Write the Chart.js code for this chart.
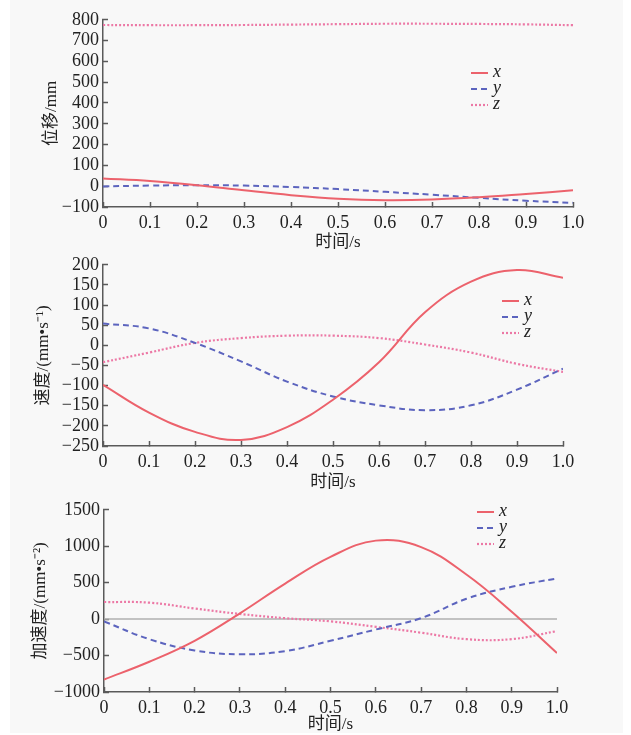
<!DOCTYPE html>
<html>
<head>
<meta charset="utf-8">
<script src="https://cdn.jsdelivr.net/npm/chart.js@4.4.1/dist/chart.umd.min.js"></script>
<style>
html, body { margin: 0; padding: 0; background: #fff; }
#bg { position: absolute; left: 10px; top: 0; width: 613px; height: 733px; background: #f8f8f8; }
canvas { position: absolute; left: 0; }
</style>
</head>
<body>
<div id="bg"></div>
<canvas id="dispChart" width="631" height="253" style="top:0px"></canvas>
<canvas id="velChart" width="631" height="250" style="top:245px"></canvas>
<canvas id="accChart" width="631" height="245" style="top:490px"></canvas>
<script>
// time axis (s)
const time = [0, 0.1, 0.2, 0.3, 0.4, 0.5, 0.6, 0.7, 0.8, 0.9, 1.0];
const seriesNames = ['x', 'y', 'z'];

// displacement, mm
const dispX = [37, 25, 5, -20, -43, -60, -67, -64, -53, -37, -20];
const dispY = [-1, 3, 5, 3, -4, -14, -27, -41, -56, -70, -80];
const dispZ = [775, 774, 774, 775, 777, 779, 781, 781, 780, 778, 774];

// velocity, mm/s
const velX = [-98, -167, -215, -235, -203, -135, -42, 82, 158, 187, 168];
const velY = [54, 42, 6, -40, -90, -127, -149, -161, -149, -110, -58];
const velZ = [-42, -18, 6, 18, 24, 24, 18, 2, -18, -46, -66];

// acceleration, mm/s^2
const accX = [-829, -585, -297, 80, 488, 855, 1077, 988, 612, 102, -465];
const accY = [-31, -275, -430, -483, -439, -297, -142, 13, 279, 443, 559];
const accZ = [235, 226, 146, 71, 13, -31, -106, -186, -275, -275, -164];

const timeTicks = [0, 0.1, 0.2, 0.3, 0.4, 0.5, 0.6, 0.7, 0.8, 0.9, 1.0];

const serif = "'Liberation Serif', 'Times New Roman', serif";
const titleFont = "'Liberation Serif', 'Noto Sans CJK SC', serif";
const axisColor = '#5a5a5a';

const lineStyles = [
    { borderColor: 'rgb(236, 98, 108)', borderWidth: 2, borderDash: [] },
    { borderColor: 'rgb(92, 100, 190)', borderWidth: 2, borderDash: [6, 4] },
    { borderColor: 'rgb(236, 120, 165)', borderWidth: 2.2, borderDash: [2, 2] }
];

function fmtNum(v) {
    return v < 0 ? '\u2212' + Math.abs(v) : String(v);
}

const legendPlugin = {
    id: 'innerLegend',
    afterDatasetsDraw(chart, args, opts) {
        const ctx = chart.ctx;
        ctx.save();
        chart.data.datasets.forEach((ds, i) => {
            const y = opts.y + i * opts.gap;
            ctx.strokeStyle = ds.borderColor;
            ctx.lineWidth = ds.borderWidth;
            ctx.setLineDash(ds.borderDash || []);
            ctx.beginPath();
            ctx.moveTo(opts.x, y);
            ctx.lineTo(opts.x + 17, y);
            ctx.stroke();
            ctx.setLineDash([]);
            ctx.fillStyle = '#222';
            ctx.font = 'italic 18px ' + serif;
            ctx.textBaseline = 'middle';
            ctx.fillText(ds.label, opts.x + 22, y - 1);
        });
        ctx.restore();
    }
};

const zeroLinePlugin = {
    id: 'zeroLine',
    beforeDatasetsDraw(chart, args, opts) {
        if (!opts.show) return;
        const ctx = chart.ctx;
        const y = chart.scales.y.getPixelForValue(0);
        ctx.save();
        ctx.strokeStyle = '#b0b0b0';
        ctx.lineWidth = 1.5;
        ctx.beginPath();
        ctx.moveTo(chart.chartArea.left, y);
        ctx.lineTo(chart.chartArea.right, y);
        ctx.stroke();
        ctx.restore();
    }
};

function makePanel(id, series, p) {
    const ctx = document.getElementById(id).getContext('2d');
    const datasets = series.map((vals, i) => Object.assign({
        label: seriesNames[i],
        data: time.map((t, k) => ({ x: t, y: vals[k] })),
        pointRadius: 0,
        fill: false,
        tension: 0.4
    }, lineStyles[i]));

    return new Chart(ctx, {
        type: 'line',
        data: { datasets: datasets },
        options: {
            responsive: false,
            animation: false,
            layout: { padding: { left: 0, top: p.top, right: p.right, bottom: 0 } },
            plugins: {
                legend: { display: false },
                tooltip: { enabled: false },
                innerLegend: { x: p.legendX, y: p.legendY, gap: 16 },
                zeroLine: { show: !!p.zeroLine }
            },
            scales: {
                x: {
                    type: 'linear',
                    min: 0,
                    max: 1,
                    afterFit: s => { s.height = p.xHeight; },
                    afterBuildTicks: s => { s.ticks = timeTicks.map(v => ({ value: v })); },
                    ticks: {
                        autoSkip: false,
                        maxRotation: 0,
                        padding: 10,
                        color: '#222',
                        font: { family: serif, size: 18 },
                        callback: v => v === 0 ? '0' : v.toFixed(1)
                    },
                    grid: { display: true, drawOnChartArea: false, drawTicks: true, tickLength: -5, tickColor: axisColor, tickWidth: 1.5 },
                    border: { display: true, color: axisColor, width: 1.5 },
                    title: {
                        display: true,
                        text: '时间/s',
                        color: '#222',
                        font: { family: titleFont, size: 17 },
                        padding: { top: 0, bottom: p.xTitlePad }
                    }
                },
                y: {
                    type: 'linear',
                    min: p.yMin,
                    max: p.yMax,
                    afterFit: s => { s.width = p.left; },
                    ticks: {
                        autoSkip: false,
                        stepSize: p.yStep,
                        padding: 9,
                        color: '#222',
                        font: { family: serif, size: 18 },
                        callback: v => fmtNum(v)
                    },
                    grid: { display: true, drawOnChartArea: false, drawTicks: true, tickLength: -5, tickColor: axisColor, tickWidth: 1.5 },
                    border: { display: true, color: axisColor, width: 1.5 },
                    title: {
                        display: true,
                        text: p.yTitle,
                        color: '#222',
                        font: { family: titleFont, size: 17 },
                        padding: { top: p.yTitlePad, bottom: 0 }
                    }
                }
            }
        },
        plugins: [legendPlugin, zeroLinePlugin]
    });
}

const dispChart = makePanel('dispChart', [dispX, dispY, dispZ], {
    left: 103, right: 631 - 573, top: 15, xHeight: 253 - 207,
    yMin: -100, yMax: 800, yStep: 100,
    yTitle: '位移/mm', yTitlePad: 41, xTitlePad: 0,
    legendX: 471, legendY: 73
});

const velChart = makePanel('velChart', [velX, velY, velZ], {
    left: 103, right: 631 - 563, top: 15, xHeight: 250 - 201,
    yMin: -250, yMax: 200, yStep: 50,
    yTitle: '速度/(mm•s⁻¹)', yTitlePad: 33, xTitlePad: 2,
    legendX: 502, legendY: 56
});

const accChart = makePanel('accChart', [accX, accY, accZ], {
    left: 104, right: 631 - 557, top: 16, xHeight: 245 - 202,
    yMin: -1000, yMax: 1500, yStep: 500,
    yTitle: '加速度/(mm•s⁻²)', yTitlePad: 30, xTitlePad: 0,
    legendX: 477, legendY: 22, zeroLine: true
});
</script>
</body>
</html>
